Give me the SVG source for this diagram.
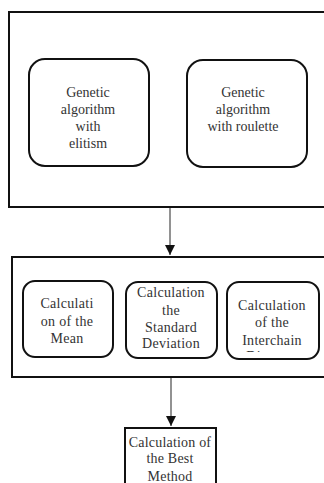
<svg xmlns="http://www.w3.org/2000/svg" width="324" height="483" viewBox="0 0 324 483" font-family="'Liberation Serif', 'DejaVu Serif', serif">
<style>
.frame{fill:none;stroke:#111;stroke-width:2}
.rbox{fill:#fff;stroke:#111;stroke-width:2}
text{font-family:'Liberation Serif','DejaVu Serif',serif;font-size:14px;fill:#333;text-anchor:middle}
.conn{stroke:#777;stroke-width:1.6;fill:none}
</style>
<defs>
<marker id="ah" markerWidth="10" markerHeight="10" refX="10" refY="5" orient="auto" markerUnits="userSpaceOnUse">
<path d="M0,0 L10,5 L0,10 Z" fill="#111"/>
</marker>
<clipPath id="c3"><rect x="228" y="283" width="90" height="69"/></clipPath>
</defs>
<rect width="324" height="483" fill="#fff"/>
<g id="group1">
<rect class="frame" x="9" y="12" width="330" height="195"/>
</g>
<g id="ga-elitism">
<rect class="rbox" x="29" y="59" width="120" height="107" rx="16"/>
<text x="88" y="97">Genetic</text>
<text x="88" y="114">algorithm</text>
<text x="88" y="131">with</text>
<text x="88" y="148">elitism</text>
</g>
<g id="ga-roulette">
<rect class="rbox" x="187" y="60" width="120" height="107" rx="16"/>
<text x="243" y="97">Genetic</text>
<text x="243" y="114">algorithm</text>
<text x="243" y="131">with roulette</text>
</g>
<g id="group2">
<rect class="frame" x="12" y="257" width="330" height="120"/>
</g>
<g id="mean">
<rect class="rbox" x="23" y="281" width="90" height="76" rx="12"/>
<text x="67" y="308" letter-spacing="0.3">Calculati</text>
<text x="67" y="326" letter-spacing="0.3">on of the</text>
<text x="67" y="343" letter-spacing="0.3">Mean</text>
</g>
<g id="stddev">
<rect class="rbox" x="126" y="282" width="91" height="76" rx="12"/>
<text x="171" y="297" letter-spacing="0.3">Calculation</text>
<text x="171" y="315" letter-spacing="0.3">the</text>
<text x="171" y="332" letter-spacing="0.3">Standard</text>
<text x="171" y="348" letter-spacing="0.3">Deviation</text>
</g>
<g id="interchain">
<rect class="rbox" x="227" y="282" width="92" height="77" rx="12"/>
<g clip-path="url(#c3)">
<text x="272" y="310" letter-spacing="0.3">Calculation</text>
<text x="272" y="327" letter-spacing="0.3">of the</text>
<text x="272" y="345" letter-spacing="0.3">Interchain</text>
<text x="272" y="361" letter-spacing="0.3">Distance</text>
</g>
</g>
<g id="best">
<rect class="frame" x="125" y="428" width="91" height="70"/>
<text x="170" y="447" letter-spacing="0.2">Calculation of</text>
<text x="170" y="463" letter-spacing="0.2">the Best</text>
<text x="170" y="481" letter-spacing="0.2">Method</text>
</g>
<g id="connectors">
<line class="conn" x1="170" y1="208" x2="170" y2="255" marker-end="url(#ah)"/>
<line class="conn" x1="171" y1="378" x2="171" y2="426" marker-end="url(#ah)"/>
</g>
</svg>
